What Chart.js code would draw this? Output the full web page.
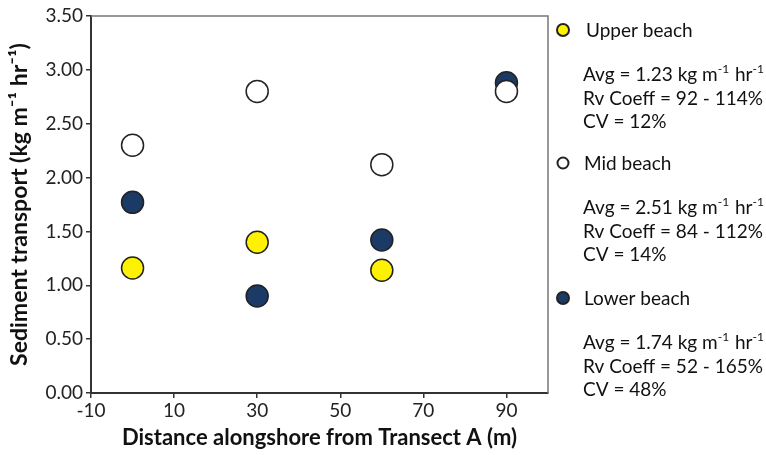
<!DOCTYPE html>
<html><head><meta charset="utf-8">
<script src="https://cdn.jsdelivr.net/npm/chart.js@4.4.1/dist/chart.umd.min.js"></script>
<style>html,body{margin:0;padding:0;background:#fff;}#wrap{width:766px;height:455px;position:relative;}</style>
</head><body><div id="wrap"><canvas id="c" width="766" height="455"></canvas></div>
<script>
const distances = [0, 30, 60, 90];
const upperBeach = [1.16, 1.40, 1.14, null];
const midBeach = [2.30, 2.80, 2.12, 2.80];
const lowerBeach = [1.77, 0.90, 1.42, 2.88];
const xTicks = [-10, 10, 30, 50, 70, 90];
const yTicks = [0, 0.5, 1, 1.5, 2, 2.5, 3, 3.5];
const seriesNames = ['Upper beach', 'Mid beach', 'Lower beach'];
const statLines = [
  [['Avg = 1.23 kg m', '-1', ' hr', '-1'], ['Rv Coeff = 92 - 114%'], ['CV = 12%']],
  [['Avg = 2.51 kg m', '-1', ' hr', '-1'], ['Rv Coeff = 84 - 112%'], ['CV = 14%']],
  [['Avg = 1.74 kg m', '-1', ' hr', '-1'], ['Rv Coeff = 52 - 165%'], ['CV = 48%']]
];
const FONT = 'Lato, "Open Sans", sans-serif';
const colors = ['#FFF200', '#FFFFFF', '#1B3A66'];

function toPts(arr){ return distances.map((d,i)=> arr[i]==null?null:{x:d,y:arr[i]}).filter(p=>p); }

const framePlugin = {
  id:'frame',
  afterDraw(chart){
    const {ctx, chartArea:a} = chart;
    ctx.save();
    ctx.strokeStyle = '#777'; ctx.lineWidth = 1.5;
    ctx.beginPath(); ctx.moveTo(a.left, a.top); ctx.lineTo(a.right, a.top); ctx.lineTo(a.right, a.bottom); ctx.stroke();
    ctx.restore();
  }
};

const legendPlugin = {
  id:'sideLegend',
  afterDraw(chart){
    const ctx = chart.ctx;
    ctx.save();
    const markerY = [30, 163, 298];
    const markerR = [6, 5.5, 6];
    ctx.textBaseline = 'middle';
    for (let s=0; s<3; s++){
      const my = markerY[s];
      ctx.beginPath(); ctx.arc(563, my, markerR[s], 0, Math.PI*2);
      ctx.fillStyle = colors[s]; ctx.fill();
      ctx.lineWidth = 2; ctx.strokeStyle = '#222'; ctx.stroke();
      ctx.fillStyle = '#111';
      ctx.font = '19px ' + FONT;
      ctx.textAlign = 'left';
      ctx.fillText(seriesNames[s], s===0?586:584, my+1);
      for (let k=0; k<3; k++){
        const ly = my + 45 + k*23.5;
        let x = 583;
        const parts = statLines[s][k];
        parts.forEach((p, idx)=>{
          const sup = (idx % 2 === 1);
          ctx.font = (sup ? '12px ' : '19px ') + FONT;
          ctx.fillText(p, x, sup ? ly - 6 : ly);
          x += ctx.measureText(p).width + (sup ? 1 : 0);
        });
      }
    }
    ctx.restore();
  }
};

new Chart(document.getElementById('c'), {
  type:'scatter',
  data:{ datasets:[
    {label:seriesNames[0], data:toPts(upperBeach), backgroundColor:colors[0], borderColor:'#222', borderWidth:1.5, pointRadius:11, pointHoverRadius:11},
    {label:seriesNames[1], data:toPts(midBeach), backgroundColor:colors[1], borderColor:'#222', borderWidth:1.5, pointRadius:11, pointHoverRadius:11},
    {label:seriesNames[2], data:toPts(lowerBeach), backgroundColor:colors[2], borderColor:'#222', borderWidth:1.5, pointRadius:11, pointHoverRadius:11}
  ]},
  options:{
    responsive:false, animation:false, devicePixelRatio:1,
    layout:{padding:{top:16, right:218, left:0, bottom:0}},
    plugins:{legend:{display:false}, tooltip:{enabled:false}},
    scales:{
      x:{type:'linear', min:-10, max:100,
        afterBuildTicks(s){ s.ticks = xTicks.map(v=>({value:v})); },
        afterFit(s){ s.height = 62; },
        grid:{drawOnChartArea:false, drawTicks:true, tickLength:5, color:'#333', lineWidth:1.5},
        border:{color:'#333', width:2},
        ticks:{color:'#222', font:{family:FONT, size:19}, padding:1, maxRotation:0},
        title:{display:true, text:'Distance alongshore from Transect A (m)', color:'#111', font:{family:FONT, size:22, weight:'bold'}, padding:{top:0}}
      },
      y:{type:'linear', min:0, max:3.5,
        afterBuildTicks(s){ s.ticks = yTicks.map(v=>({value:v})); },
        afterFit(s){ s.width = 91; },
        grid:{drawOnChartArea:false, drawTicks:true, tickLength:5, color:'#333', lineWidth:1.5},
        border:{color:'#333', width:2},
        ticks:{color:'#222', font:{family:FONT, size:19}, padding:3, callback:v=>Number(v).toFixed(2)},
        title:{display:true, text:'Sediment transport (kg m\u207B\u00B9 hr\u207B\u00B9)', color:'#111', font:{family:FONT, size:23, weight:'bold'}, padding:{top:6, bottom:0}}
      }
    }
  },
  plugins:[framePlugin, legendPlugin]
});
</script></body></html>
